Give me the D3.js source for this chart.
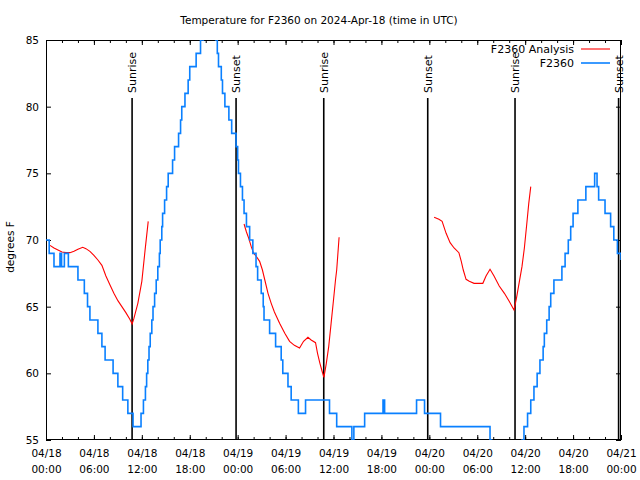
<!DOCTYPE html>
<html>
<head>
<meta charset="utf-8">
<script src="https://cdn.jsdelivr.net/npm/d3@7"></script>
<style>
  html, body { margin: 0; padding: 0; background: #fff; }
  svg { display: block; }
  text { font-family: "DejaVu Sans", sans-serif; fill: #000; }
</style>
</head>
<body>
<svg id="chart" width="640" height="480"></svg>
<script>
// ---- data (hours since 2024-04-18 00:00 UTC) ----
const startDate = Date.UTC(2024, 3, 18, 0, 0);
const titleText = "Temperature for F2360 on 2024-Apr-18 (time in UTC)";
const yLabel = "degrees F";
const yTicks = [55, 60, 65, 70, 75, 80, 85];
const xTickHours = [0, 6, 12, 18, 24, 30, 36, 42, 48, 54, 60, 66, 72];
const legendNames = ["F2360 Analysis", "F2360"];

// observed F2360: hour at which the reading changes, and the new reading
const obsHours = [0, 0.4, 1.0, 1.75, 1.95, 2.3, 2.8, 4.0, 4.8, 5.2, 5.5, 6.5, 7.0, 7.4, 8.4, 9.0, 9.6, 10.25, 10.9, 11.9,
  12.2, 12.45, 12.6, 12.75, 12.9, 13.05, 13.25, 13.4, 13.6, 13.8, 14.0, 14.2, 14.3, 14.5, 14.6, 14.85, 15.1, 15.3, 15.85, 16.1,
  16.6, 16.85, 17.0, 17.4, 17.8, 18.0, 18.8, 19.35, 19.7, 20.1, 20.8, 21.25, 21.45, 21.6, 21.95, 22.1, 22.4, 22.9, 23.25, 23.8,
  24.0, 24.1, 24.35, 24.6, 24.8, 25.1, 25.5, 25.9, 26.3, 26.5, 26.95, 27.2, 27.3, 28.0, 28.75, 29.45, 29.65, 30.3, 30.7, 31.6,
  32.5, 35.5, 36.4, 38.3, 38.55, 39.9, 42.2, 42.4, 46.4, 47.4, 49.4, 55.6, 55.8, 56.3, 58.8, 59.3, 59.6, 59.85, 60.3, 60.7,
  61.1, 61.5, 61.85, 62.25, 62.4, 62.7, 63.0, 63.2, 63.6, 64.6, 65.0, 65.4, 65.7, 66.0, 66.6, 67.6, 68.7, 69.0, 69.2, 70.0,
  70.7, 71.1, 71.55, 72.0];
const obsTemps = [70, 69, 68, 69, 68, 69, 68, 67, 66, 65, 64, 63, 62, 61, 60, 59, 58, 57, 56, 57,
  58, 59, 60, 61, 62, 63, 64, 65, 66, 67, 68, 69, 70, 71, 72, 73, 74, 75, 76, 77,
  78, 79, 80, 81, 82, 83, 84, 85, 86, 87, 86, 85, 84, 83, 82, 81, 80, 79, 78, 77,
  76, 75, 74, 73, 72, 71, 70, 69, 68, 67, 66, 65, 64, 63, 62, 61, 60, 59, 58, 57,
  58, 57, 56, 55, 56, 57, 58, 57, 58, 57, 56, 55, 54, 53, 53, 54, 55, 56, 57, 58,
  59, 60, 61, 62, 63, 64, 65, 66, 67, 68, 69, 70, 71, 72, 73, 74, 75, 74, 73, 72,
  71, 70, 69, 68.5];

// analysis F2360 (null = gap)
const anaHours = [0.5, 1.0, 1.5, 2.0, 2.5, 3.0, 3.5, 4.0, 4.6, 5.0, 5.5, 6.0, 6.5, 7.0, 7.5, 8.0, 8.5, 9.0, 9.5, 10.0,
  10.5, 10.78, 11.0, 11.5, 12.0, 12.4, 12.8, null,
  24.8, 25.1, 25.4, 25.7, 26.0, 26.3, 26.75, 27.1, 27.4, 27.8, 28.2, 28.6, 29.25, 29.9, 30.5, 31.1, 31.75, 32.25, 32.8, 33.2,
  33.75, 34.0, 34.3, 34.6, 34.8, 35.1, 35.4, 35.7, 36.0, 36.25, 36.4, 36.7, null,
  48.6, 49.2, 49.6, 50.1, 50.6, 51.1, 51.7, 52.0, 52.25, 52.6, 53.0, 53.6, 54.7, 55.1, 55.6, 56.1, 56.75, 57.4, 58.0, 58.6,
  58.9, 59.25, 59.6, 59.9, 60.2, 60.45, 60.7];
const anaTemps = [69.6, 69.4, 69.25, 69.1, 69.05, 69.05, 69.15, 69.3, 69.45, 69.35, 69.15, 68.85, 68.5, 68.1, 67.3, 66.65, 66.0, 65.45, 65.0, 64.55,
  64.05, 63.7, 64.1, 65.25, 66.9, 69.2, 71.4, null,
  71.2, 70.6, 70.1, 69.5, 69.0, 68.8, 68.4, 67.75, 67.0, 66.0, 65.25, 64.6, 63.75, 63.0, 62.4, 62.1, 61.9, 62.4, 62.7, 62.5,
  62.3, 61.5, 60.75, 60.1, 59.7, 60.75, 62.0, 63.75, 65.5, 67.0, 67.75, 70.2, null,
  71.7, 71.55, 71.4, 70.5, 69.8, 69.4, 69.05, 68.4, 67.75, 67.05, 66.9, 66.75, 66.75, 67.3, 67.8, 67.3, 66.55, 66.0, 65.4, 64.75,
  65.6, 66.8, 68.0, 69.4, 71.2, 72.75, 74.0];

const sunHours = [10.78, 23.8, 34.78, 47.8, 58.73, 71.7];
const sunLabels = ["Sunrise", "Sunset", "Sunrise", "Sunset", "Sunrise", "Sunset"];

// ---- layout ----
const L = 46, R = 621, T = 40, B = 440;
const toDate = h => new Date(startDate + h * 3600e3);

const svg = d3.select("#chart");
const x = d3.scaleUtc().domain([toDate(0), toDate(72)]).range([L, R]);
const y = d3.scaleLinear().domain([55, 85]).range([B, T]);

svg.append("defs").append("clipPath").attr("id", "plotclip")
  .append("rect").attr("x", L).attr("y", T).attr("width", R - L).attr("height", B - T);

// title
svg.append("text").attr("x", 319).attr("y", 24).attr("text-anchor", "middle")
  .style("font-size", "10.5px").text(titleText);

// y label
svg.append("text").attr("transform", `translate(14,${(T + B) / 2 + 7}) rotate(-90)`)
  .attr("text-anchor", "middle").style("font-size", "10.5px").text(yLabel);

// axes
const majorDates = xTickHours.map(toDate);
const minorDates = d3.range(0, 73, 2).map(toDate);
const fmtDay = d3.utcFormat("%m/%d"), fmtTime = d3.utcFormat("%H:%M");

const xAxis = svg.append("g").attr("transform", `translate(0,${B})`)
  .call(d3.axisBottom(x).tickValues(majorDates).tickSize(-5).tickPadding(14).tickFormat(""));
xAxis.selectAll(".tick").each(function(d) {
  const t = d3.select(this).select("text").text(null).style("font-size", "10.5px");
  t.append("tspan").attr("x", 0).attr("dy", "0.3em").text(fmtDay(d));
  t.append("tspan").attr("x", 0).attr("dy", "1.55em").text(fmtTime(d));
});
svg.append("g").attr("transform", `translate(0,${B})`)
  .call(d3.axisBottom(x).tickValues(minorDates).tickSize(-3).tickFormat(""));
svg.append("g").attr("transform", `translate(0,${T})`)
  .call(d3.axisTop(x).tickValues(majorDates).tickSize(-5).tickFormat(""));
svg.append("g").attr("transform", `translate(0,${T})`)
  .call(d3.axisTop(x).tickValues(minorDates).tickSize(-3).tickFormat(""));

svg.append("g").attr("transform", `translate(${L},0)`)
  .call(d3.axisLeft(y).tickValues(yTicks).tickSize(-5).tickPadding(7))
  .selectAll("text").style("font-size", "10.5px");
svg.append("g").attr("transform", `translate(${R},0)`)
  .call(d3.axisRight(y).tickValues(yTicks).tickSize(-5).tickFormat(""));

svg.selectAll(".domain").remove();
svg.selectAll(".tick line").attr("stroke", "#000");

svg.append("rect").attr("x", L + 0.5).attr("y", T + 0.5).attr("width", R - L - 1).attr("height", B - T - 1)
  .attr("fill", "none").attr("stroke", "#000").attr("stroke-width", 1);

// sunrise / sunset markers
const sun = svg.append("g");
sunHours.forEach((h, i) => {
  const sx = x(toDate(h));
  sun.append("line").attr("x1", sx).attr("x2", sx).attr("y1", 98).attr("y2", B)
    .attr("stroke", "#000").attr("stroke-width", 1.6);
  sun.append("text").attr("transform", `translate(${sx + 4},93) rotate(-90)`)
    .attr("text-anchor", "start").style("font-size", "11px").text(sunLabels[i]);
});

// data lines
const plot = svg.append("g").attr("clip-path", "url(#plotclip)");
const obs = obsHours.map((h, i) => ({ t: toDate(h), v: obsTemps[i] }));
const ana = anaHours.map((h, i) => ({ t: h === null ? null : toDate(h), v: anaTemps[i] }));

plot.append("path").datum(ana)
  .attr("fill", "none").attr("stroke", "#ff0000").attr("stroke-width", 1.1)
  .attr("d", d3.line().defined(d => d.v !== null).x(d => x(d.t)).y(d => y(d.v)));
plot.append("path").datum(obs)
  .attr("fill", "none").attr("stroke", "#0a80ff").attr("stroke-width", 1.6)
  .attr("d", d3.line().curve(d3.curveStepAfter).x(d => x(d.t)).y(d => y(d.v)));

// legend
const legColors = ["#ff0000", "#0a80ff"];
legendNames.forEach((name, i) => {
  const ly = 49 + i * 14;
  svg.append("text").attr("x", 574).attr("y", ly + 4).attr("text-anchor", "end")
    .style("font-size", "11px").text(name);
  svg.append("line").attr("x1", 581).attr("x2", 610).attr("y1", ly).attr("y2", ly)
    .attr("stroke", legColors[i]).attr("stroke-width", i === 0 ? 1.1 : 1.6);
});
</script>
</body>
</html>
